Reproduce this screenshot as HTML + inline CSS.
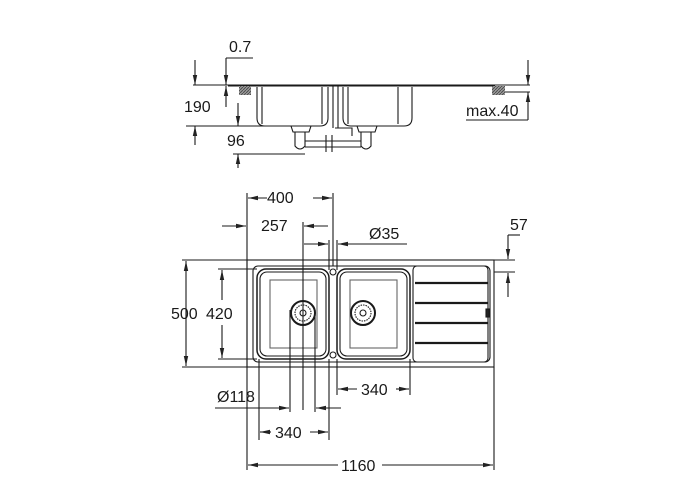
<!DOCTYPE html>
<html><head><meta charset="utf-8"><style>
html,body{margin:0;padding:0;background:#fff;}
svg{display:block}
text{font-family:"Liberation Sans",sans-serif;font-size:16px;fill:#1a1a1a}
</style></head><body>
<svg width="700" height="500" viewBox="0 0 700 500" xmlns="http://www.w3.org/2000/svg">
<defs>
<marker id="a" markerWidth="10" markerHeight="6" refX="10" refY="3" orient="auto" markerUnits="userSpaceOnUse"><path d="M0,0.8 L10,3 L0,5.2 z" fill="#222"/></marker>
<pattern id="h" width="3" height="3" patternUnits="userSpaceOnUse"><rect width="3" height="3" fill="#999"/><path d="M0,3 L3,0" stroke="#444" stroke-width="0.8"/></pattern>
</defs>
<g stroke="#1a1a1a" stroke-width="1.1" fill="none">
<!-- TOP SECTION -->
<line x1="193" y1="85" x2="530" y2="85"/>
<line x1="495" y1="92" x2="530" y2="92"/>
<line x1="228" y1="86" x2="495" y2="86"/>
<rect x="239" y="86" width="12" height="9" fill="url(#h)" stroke="none"/>
<rect x="492" y="86" width="13" height="9" fill="url(#h)" stroke="none"/>
<path d="M257,87 V118 Q257,126 265,126 H320 Q328,126 328,118 V87"/>
<path d="M262,87 V124 M322,87 V124"/>
<path d="M343,87 V118 Q343,126 351,126 H404 Q412,126 412,118 V87"/>
<path d="M398,87 V124 M348,87 V124"/>
<path d="M291,126 L293,132 H309 L311,126 M295,132 V146 Q300,152 305,146 V132"/>
<path d="M357,126 L359,132 H375 L377,126 M361,132 V146 Q366,152 371,146 V132"/>
<path d="M305,141 H361 M305,147 H361 M326,135 V152 M332,135 V152"/>
<path d="M333,86 V128 M338,86 V128 M335,128 H352 V136"/>
<!-- top dims -->
<line x1="195" y1="60" x2="195" y2="85" marker-end="url(#a)"/>
<line x1="195" y1="145" x2="195" y2="126" marker-end="url(#a)"/>
<line x1="186" y1="126" x2="290" y2="126"/>
<line x1="253" y1="58" x2="226" y2="58"/>
<line x1="226" y1="58" x2="226" y2="85" marker-end="url(#a)"/>
<line x1="226" y1="107" x2="226" y2="86" marker-end="url(#a)"/>
<line x1="238" y1="103" x2="238" y2="126" marker-end="url(#a)"/>
<line x1="238" y1="168" x2="238" y2="154" marker-end="url(#a)"/>
<line x1="233" y1="154" x2="305" y2="154"/>
<line x1="528" y1="60" x2="528" y2="85" marker-end="url(#a)"/>
<line x1="528" y1="120" x2="528" y2="92" marker-end="url(#a)"/>
<line x1="466" y1="120" x2="528" y2="120"/>

<!-- PLAN VIEW -->
<rect x="247" y="260" width="247" height="107"/>
<rect x="253" y="266" width="237" height="96" rx="5"/>
<rect x="257" y="269" width="72" height="90" rx="9" stroke-width="1.5"/>
<rect x="260" y="272" width="66" height="84" rx="7"/>
<rect x="270" y="280" width="47" height="68" stroke="#666"/>
<rect x="337" y="269" width="73" height="90" rx="9" stroke-width="1.5"/>
<rect x="340" y="272" width="67" height="84" rx="7"/>
<rect x="350" y="280" width="47" height="68" stroke="#666"/>
<circle cx="333" cy="272" r="3"/><circle cx="333" cy="355" r="3"/>
<circle cx="303" cy="313" r="12" stroke-width="2"/><circle cx="303" cy="313" r="8" stroke-dasharray="1.5 1"/><circle cx="303" cy="313" r="3"/>
<circle cx="363" cy="313" r="12" stroke-width="2"/><circle cx="363" cy="313" r="8" stroke-dasharray="1.5 1"/><circle cx="363" cy="313" r="3"/>
<rect x="413" y="266" width="75" height="96" rx="4"/>
<g stroke-width="2.2"><line x1="415" y1="283" x2="488" y2="283"/><line x1="415" y1="303" x2="488" y2="303"/><line x1="415" y1="323" x2="488" y2="323"/><line x1="415" y1="343" x2="488" y2="343"/></g>
<rect x="486" y="309" width="3" height="8" fill="#222"/>
<!-- plan dims -->
<line x1="182" y1="260" x2="247" y2="260"/>
<line x1="218" y1="269" x2="257" y2="269"/>
<line x1="218" y1="359" x2="257" y2="359"/>
<line x1="182" y1="367" x2="247" y2="367"/>
<line x1="186" y1="313" x2="186" y2="261" marker-end="url(#a)"/>
<line x1="186" y1="313" x2="186" y2="366" marker-end="url(#a)"/>
<line x1="222" y1="300" x2="222" y2="270" marker-end="url(#a)"/>
<line x1="222" y1="325" x2="222" y2="358" marker-end="url(#a)"/>
<line x1="247" y1="193" x2="247" y2="470"/>
<line x1="494" y1="367" x2="494" y2="470"/>
<line x1="333" y1="193" x2="333" y2="266"/>
<line x1="329" y1="240" x2="329" y2="270"/>
<line x1="337" y1="240" x2="337" y2="270"/>
<line x1="303" y1="222" x2="303" y2="410"/>
<line x1="267" y1="198" x2="248" y2="198" marker-end="url(#a)"/>
<line x1="313" y1="198" x2="332" y2="198" marker-end="url(#a)"/>
<line x1="222" y1="226" x2="246" y2="226" marker-end="url(#a)"/>
<line x1="328" y1="226" x2="304" y2="226" marker-end="url(#a)"/>
<line x1="304" y1="244" x2="328" y2="244" marker-end="url(#a)"/>
<line x1="407" y1="244" x2="338" y2="244" marker-end="url(#a)"/>
<line x1="494" y1="260" x2="515" y2="260"/>
<line x1="494" y1="272" x2="515" y2="272"/>
<line x1="520" y1="235" x2="508" y2="235"/>
<line x1="508" y1="235" x2="508" y2="259" marker-end="url(#a)"/>
<line x1="508" y1="297" x2="508" y2="273" marker-end="url(#a)"/>
<!-- bottom dims -->
<line x1="259" y1="359" x2="259" y2="440"/>
<line x1="290" y1="310" x2="290" y2="412"/>
<line x1="315" y1="310" x2="315" y2="412"/>
<line x1="329" y1="359" x2="329" y2="440"/>
<line x1="337" y1="359" x2="337" y2="395"/>
<line x1="410" y1="359" x2="410" y2="395"/>
<line x1="357" y1="389" x2="338" y2="389" marker-end="url(#a)"/>
<line x1="396" y1="389" x2="409" y2="389" marker-end="url(#a)"/>
<line x1="215" y1="408" x2="289" y2="408" marker-end="url(#a)"/>
<line x1="341" y1="408" x2="316" y2="408" marker-end="url(#a)"/>
<line x1="271" y1="432" x2="260" y2="432" marker-end="url(#a)"/>
<line x1="310" y1="432" x2="328" y2="432" marker-end="url(#a)"/>
<line x1="338" y1="465" x2="248" y2="465" marker-end="url(#a)"/>
<line x1="382" y1="465" x2="493" y2="465" marker-end="url(#a)"/>
</g>
<text x="229" y="52">0.7</text>
<text x="184" y="112">190</text>
<text x="227" y="146">96</text>
<text x="466" y="116">max.40</text>
<text x="267" y="203">400</text>
<text x="261" y="231">257</text>
<text x="369" y="239">Ø35</text>
<text x="510" y="230">57</text>
<text x="171" y="319">500</text>
<text x="206" y="319">420</text>
<text x="361" y="395">340</text>
<text x="217" y="402">Ø118</text>
<text x="275" y="438">340</text>
<text x="341" y="471">1160</text>
</svg>
</body></html>
